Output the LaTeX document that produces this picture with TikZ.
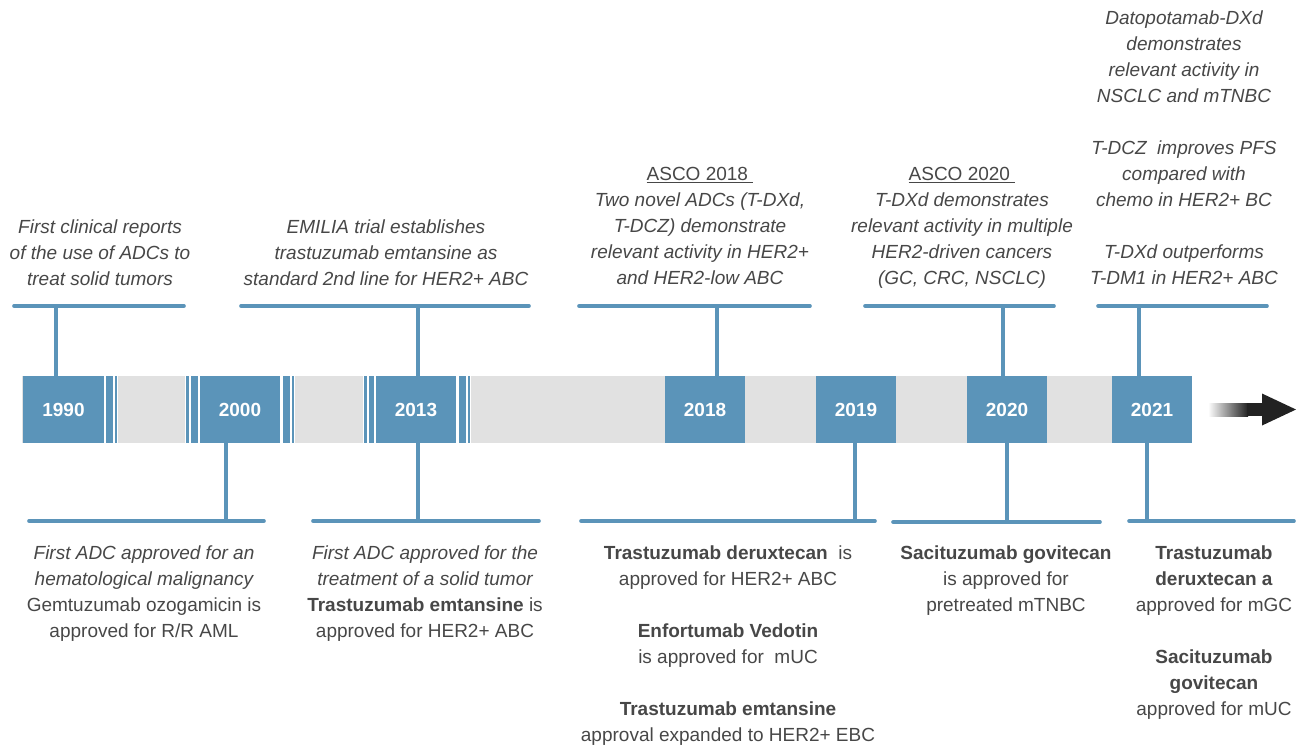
\documentclass[tikz,border=0pt]{standalone}
\usepackage{fontspec}
\setmainfont{Liberation Sans}
\definecolor{adcblue}{HTML}{5B94B9}
\definecolor{bargray}{HTML}{E1E1E1}
\definecolor{txtc}{HTML}{474747}
\definecolor{arrowc}{HTML}{222222}
\newcommand{\myit}[1]{{\itshape #1}}
\begin{document}
\begin{tikzpicture}[x=1pt,y=-1pt,
  yearbox/.style={rectangle, fill=adcblue, minimum width=80pt, minimum height=67pt, inner sep=0pt,
    text=white, font=\fontsize{19}{22}\selectfont\bfseries},
  conn/.style={draw=adcblue, line width=3.6pt, line cap=round},
  vconn/.style={draw=adcblue, line width=3.6pt},
  txt/.style={font=\fontsize{19}{26}\selectfont, align=center, inner sep=0pt, anchor=north, text=txtc},
  itx/.style={txt, font=\fontsize{19}{26}\selectfont\itshape},
  stripe/.style={fill=adcblue},
]
\useasboundingbox (0,0) rectangle (1307,748);

% bar
\fill[bargray] (22,376) rectangle (1192,443);
\fill[white] (103,376) rectangle (118,443);
\fill[white] (185,376) rectangle (295,443);
\fill[white] (363,376) rectangle (471,443);
\fill[stripe] (105.5,376) rectangle (113,443);
\fill[stripe] (114.5,376) rectangle (117,443);
\fill[stripe] (186,376) rectangle (189,443);
\fill[stripe] (191,376) rectangle (198,443);
\fill[stripe] (282.5,376) rectangle (290,443);
\fill[stripe] (292,376) rectangle (294,443);
\fill[stripe] (364,376) rectangle (367,443);
\fill[stripe] (368.5,376) rectangle (373.5,443);
\fill[stripe] (458.5,376) rectangle (466,443);
\fill[stripe] (468,376) rectangle (470,443);

% year boxes
\node[yearbox, minimum width=81pt] (y1990) at (63.5,409.5) {1990};
\node[yearbox] (y2000) at (240,409.5) {2000};
\node[yearbox] (y2013) at (416,409.5) {2013};
\node[yearbox] (y2018) at (705,409.5) {2018};
\node[yearbox] (y2019) at (856,409.5) {2019};
\node[yearbox] (y2020) at (1007,409.5) {2020};
\node[yearbox] (y2021) at (1152,409.5) {2021};

% arrow
\shade[left color=white, right color=arrowc] (1208,403) rectangle (1248,416);
\fill[arrowc] (1247,403) rectangle (1265,416);
\fill[arrowc] (1262,393.5) -- (1296,409.5) -- (1262,425.5) -- cycle;

% top connectors
\coordinate (t1990) at (56,306);   \coordinate (t1990a) at (14,306);  \coordinate (t1990b) at (184,306);
\coordinate (t2013) at (418,306);  \coordinate (t2013a) at (241,306); \coordinate (t2013b) at (529,306);
\coordinate (t2018) at (717,306);  \coordinate (t2018a) at (579,306); \coordinate (t2018b) at (810,306);
\coordinate (t2020) at (1003,306); \coordinate (t2020a) at (865,306); \coordinate (t2020b) at (1054,306);
\coordinate (t2021) at (1139,306); \coordinate (t2021a) at (1098,306);\coordinate (t2021b) at (1267,306);
\foreach \n in {1990,2013,2018,2020,2021}{
  \draw[conn] (t\n a) -- (t\n b);
  \draw[vconn] (t\n) -- (t\n |- y\n.north);
}

% bottom connectors
\coordinate (b2000) at (226,521);  \coordinate (b2000a) at (29,521);  \coordinate (b2000b) at (264,521);
\coordinate (b2013) at (418,521);  \coordinate (b2013a) at (313,521); \coordinate (b2013b) at (539,521);
\coordinate (b2019) at (855,521);  \coordinate (b2019a) at (581,521); \coordinate (b2019b) at (875,521);
\coordinate (b2020) at (1007,522); \coordinate (b2020a) at (893,522); \coordinate (b2020b) at (1100,522);
\coordinate (b2021) at (1147,521); \coordinate (b2021a) at (1129,521);\coordinate (b2021b) at (1294,521);
\foreach \n in {2000,2013,2019,2020,2021}{
  \draw[conn] (b\n a) -- (b\n b);
  \draw[vconn] (b\n) -- (b\n |- y\n.south);
}

% top texts
\node[itx] (n1990) at (100,215.3) {\strut First clinical reports\\ of the use of ADCs to\\ treat solid tumors};
\node[itx] (n2013) at (386,215.3) {\strut EMILIA trial establishes\\ trastuzumab emtansine as\\ standard 2nd line for HER2+ ABC};
\node[itx] (n2018) at (700,162.3) {\strut\underline{\upshape ASCO 2018\ }\\ Two novel ADCs (T-DXd,\\ T-DCZ) demonstrate\\ relevant activity in HER2+\\ and HER2-low ABC};
\node[itx] (n2020) at (962,162.3) {\strut\underline{\upshape ASCO 2020\ }\\ T-DXd demonstrates\\ relevant activity in multiple\\ HER2-driven cancers\\ (GC, CRC, NSCLC)};
\node[itx] (n2021) at (1184,6.3) {\strut Datopotamab-DXd\\ demonstrates\\ relevant activity in\\ NSCLC and mTNBC\\[26pt] T-DCZ\ \ improves PFS\\ compared with\\ chemo in HER2+ BC\\[26pt] T-DXd outperforms\\ T-DM1 in HER2+ ABC};

% bottom texts
\node[txt] (m2000) at (144,541.3) {\strut\myit{First ADC approved for an}\\ \myit{hematological malignancy}\\ Gemtuzumab ozogamicin is\\ approved for R/R AML};
\node[txt] (m2013) at (425,541.3) {\strut\myit{First ADC approved for the}\\ \myit{treatment of a solid tumor}\\ \textbf{Trastuzumab emtansine}\ is\\ approved for HER2+ ABC};
\node[txt] (m2019) at (728,541.3) {\strut\textbf{Trastuzumab deruxtecan}\ \ is\\ approved for HER2+ ABC\\[26pt] \textbf{Enfortumab Vedotin}\\ is approved for\ \ mUC\\[26pt] \textbf{Trastuzumab emtansine}\\ approval expanded to HER2+ EBC};
\node[txt] (m2020) at (1006,541.3) {\strut\textbf{Sacituzumab govitecan}\\ is approved for\\ pretreated mTNBC};
\node[txt] (m2021) at (1214,541.3) {\strut\textbf{Trastuzumab}\\ \textbf{deruxtecan a}\\ approved for mGC\\[26pt] \textbf{Sacituzumab}\\ \textbf{govitecan}\\ approved for mUC};
\end{tikzpicture}
\end{document}
